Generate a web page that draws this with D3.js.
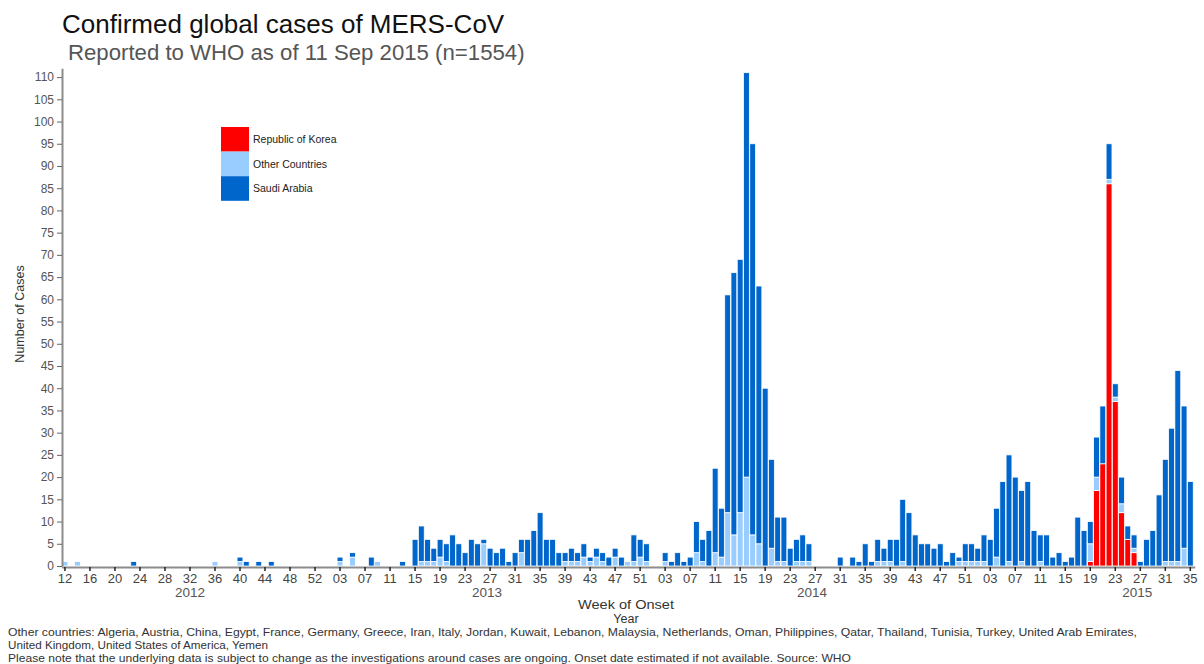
<!DOCTYPE html>
<html><head><meta charset="utf-8">
<script src="https://cdn.jsdelivr.net/npm/d3@7"></script>
<style>
body{margin:0;background:#fff;}
text{font-family:"Liberation Sans",Arial,Helvetica,sans-serif;}
</style>
</head><body>
<svg id="chart" width="1204" height="664"></svg>
<script>
// ---------------- DATA ----------------
const years = [2012, 2013, 2014, 2015];
const firstWeek = [12, 1, 1, 1];
const lastWeek = [53, 52, 52, 35];

const seriesKeys = ["korea", "other", "saudi"];
const seriesNames = ["Republic of Korea", "Other Countries", "Saudi Arabia"];
const seriesColors = ["#FF0000", "#99CCFF", "#0066CC"];

const yTickValues = [0,5,10,15,20,25,30,35,40,45,50,55,60,65,70,75,80,85,90,95,100,105,110];

// 2012, weeks 12..53
const korea2012 = [0,0,0,0,0,0,0,0,0,0, 0,0,0,0,0,0,0,0,0,0, 0,0,0,0,0,0,0,0,0,0, 0,0,0,0,0,0,0,0,0,0, 0,0];
const other2012 = [1,0,1,0,0,0,0,0,0,0, 0,0,0,0,0,0,0,0,0,0, 0,0,0,0,1,0,0,0,1,0, 0,0,0,0,0,0,0,0,0,0, 0,0];
const saudi2012 = [0,0,0,0,0,0,0,0,0,0, 0,1,0,0,0,0,0,0,0,0, 0,0,0,0,0,0,0,0,1,1, 0,1,0,1,0,0,0,0,0,0, 0,0];

// 2013, weeks 1..52
const korea2013 = [0,0,0,0,0,0,0,0,0,0, 0,0,0,0,0,0,0,0,0,0, 0,0,0,0,0,0,0,0,0,0, 0,0,0,0,0,0,0,0,0,0, 0,0,0,0,0,0,0,0,0,0, 0,0];
const other2013 = [0,0,1,0,2,0,0,0,1,0, 0,0,0,0,0,1,1,1,2,1, 0,0,0,0,0,5,0,0,0,0, 0,3,0,0,0,0,0,0,1,1, 1,2,1,2,1,0,2,0,1,1, 2,1];
const saudi2013 = [0,0,1,0,1,0,0,2,0,0, 0,0,1,0,6,8,5,3,4,4, 7,5,3,6,5,1,4,3,4,1, 3,3,6,8,12,6,6,3,2,3, 2,3,1,2,2,2,2,2,0,6, 4,4];

// 2014, weeks 1..52
const korea2014 = [0,0,0,0,0,0,0,0,0,0, 0,0,0,0,0,0,0,0,0,0, 0,0,0,0,0,0,0,0,0,0, 0,0,0,0,0,0,0,0,0,0, 0,0,0,0,0,0,0,0,0,0, 0,0];
const other2014 = [0,0,1,0,0,0,0,3,1,0, 3,2,12,7,12,20,7,5,0,4, 1,1,0,1,1,1,0,0,0,0, 0,0,0,0,0,0,1,1,1,0, 1,0,0,0,0,0,0,0,0,1, 1,1];
const saudi2014 = [0,0,2,1,3,1,2,7,5,8, 19,11,49,59,57,91,88,58,40,20, 10,10,4,5,6,4,0,0,0,0, 2,0,2,1,5,1,5,3,5,6, 14,12,7,5,5,4,5,1,3,1, 4,4];

// 2015, weeks 1..35
const korea2015 = [0,0,0,0,0,0,0,0,0,0, 0,0,0,0,0,0,0,0,1,17, 23,86,37,12,6,3,0,0,0,0, 0,0,0,0,0];
const other2015 = [1,1,0,2,0,1,0,1,0,0, 1,0,0,0,0,0,0,0,4,3, 0,1,1,2,0,1,0,0,0,0, 1,1,1,4,0];
const saudi2015 = [3,6,6,11,19,24,20,16,19,8, 6,7,2,3,1,2,11,8,5,9, 13,8,3,6,3,3,1,6,8,16, 23,30,43,32,19];

const titleText = "Confirmed global cases of MERS-CoV";
const subtitleText = "Reported to WHO as of 11 Sep 2015 (n=1554)";
const yAxisTitle = "Number of Cases";
const xAxisTitle1 = "Week of Onset";
const xAxisTitle2 = "Year";
const footnotes = [
  "Other countries: Algeria, Austria, China, Egypt, France, Germany, Greece, Iran, Italy, Jordan, Kuwait, Lebanon, Malaysia, Netherlands, Oman, Philippines, Qatar, Thailand, Tunisia, Turkey, United Arab Emirates,",
  "United Kingdom, United States of America, Yemen",
  "Please note that the underlying data is subject to change as the investigations around cases are ongoing. Onset date estimated if not available. Source: WHO"
];

// ---------------- BUILD TABLE ----------------
const koreaByYear = [korea2012, korea2013, korea2014, korea2015];
const otherByYear = [other2012, other2013, other2014, other2015];
const saudiByYear = [saudi2012, saudi2013, saudi2014, saudi2015];

const rows = [];
const yearStartIdx = [];
years.forEach((yr, i) => {
  yearStartIdx.push(rows.length);
  for (let w = firstWeek[i]; w <= lastWeek[i]; w++) {
    const j = w - firstWeek[i];
    rows.push({key: yr + "-" + w, year: yr, week: w,
      korea: koreaByYear[i][j], other: otherByYear[i][j], saudi: saudiByYear[i][j]});
  }
});

// ---------------- DRAW ----------------
const svg = d3.select("#chart");
const x0 = 62, x1 = 1193.25, yBase = 566, yTop = 68.2;

const x = d3.scaleBand().domain(rows.map(d => d.key)).range([x0, x1]).paddingInner(0.06).paddingOuter(0);
const y = d3.scaleLinear().domain([0, 112]).range([yBase, yTop]);
const color = d3.scaleOrdinal().domain(seriesKeys).range(seriesColors);

const stacked = d3.stack().keys(seriesKeys)(rows);

svg.append("g").selectAll("g").data(stacked).join("g")
  .attr("fill", s => color(s.key))
  .selectAll("rect").data(s => s.filter(d => d[1] - d[0] > 0)).join("rect")
  .attr("x", d => x(d.data.key))
  .attr("width", x.bandwidth())
  .attr("y", d => y(d[1]))
  .attr("height", d => y(d[0]) - y(d[1]))
  .attr("stroke", "#ffffff")
  .attr("stroke-width", 0.8);

// Y axis
const yAxis = svg.append("g").attr("transform", `translate(${x0},0)`)
  .call(d3.axisLeft(y).tickValues(yTickValues).tickSize(5).tickSizeOuter(0).tickPadding(3));
yAxis.select(".domain").attr("stroke", "#8c8c8c").attr("stroke-width", 2);
yAxis.selectAll(".tick line").attr("stroke", "#666");
yAxis.selectAll(".tick text").attr("font-size", 12).attr("fill", "#555")
  .style("font-family", "'Liberation Sans', Arial, sans-serif");

// X axis
const tickKeys = rows.filter((d, i) => i % 4 === 0).map(d => d.key);
const weekOf = new Map(rows.map(d => [d.key, d.week]));
const xAxis = svg.append("g").attr("transform", `translate(0,${yBase + 1})`)
  .call(d3.axisBottom(x).tickValues(tickKeys)
    .tickFormat(k => String(weekOf.get(k)).padStart(2, "0"))
    .tickSize(4).tickSizeOuter(0).tickPadding(3));
xAxis.select(".domain").attr("stroke", "#8c8c8c").attr("stroke-width", 2)
  .attr("d", `M${x0},0.5H${x1 + 2}`);
xAxis.selectAll(".tick line").attr("stroke", "#222").attr("stroke-width", 1.5);
xAxis.selectAll(".tick text").attr("font-size", 13).attr("fill", "#444")
  .style("font-family", "'Liberation Sans', Arial, sans-serif");

// Year labels
const step = x.step();
years.forEach((yr, i) => {
  const startKey = rows[yearStartIdx[i]].key;
  const cx = x(startKey) + x.bandwidth() / 2 + step * (52 - firstWeek[i]) / 2;
  svg.append("text").attr("x", cx).attr("y", 597).attr("text-anchor", "middle")
    .attr("font-size", 13.5).attr("fill", "#555").text(yr);
});

// Axis titles
svg.append("text").attr("x", 626).attr("y", 609).attr("text-anchor", "middle")
  .attr("font-size", 12.5).attr("fill", "#333").attr("textLength", 96).attr("lengthAdjust", "spacingAndGlyphs")
  .text(xAxisTitle1);
svg.append("text").attr("x", 626).attr("y", 623.3).attr("text-anchor", "middle")
  .attr("font-size", 12.5).attr("fill", "#333").text(xAxisTitle2);
svg.append("text").attr("transform", "translate(24,314) rotate(-90)").attr("text-anchor", "middle")
  .attr("font-size", 12.5).attr("fill", "#333").text(yAxisTitle);

// Title / subtitle
svg.append("text").attr("x", 62).attr("y", 33).attr("font-size", 26).attr("fill", "#111").text(titleText);
svg.append("text").attr("x", 68).attr("y", 60).attr("font-size", 22.2).attr("fill", "#555").text(subtitleText);

// Legend (top to bottom: Korea, Other, Saudi)
const legend = svg.append("g").attr("transform", "translate(221,127)");
seriesKeys.forEach((k, i) => {
  legend.append("rect").attr("x", 0).attr("y", i * 24.6).attr("width", 28).attr("height", 24.6)
    .attr("fill", color(k));
  legend.append("text").attr("x", 32).attr("y", i * 24.6 + 16).attr("font-size", 10.5)
    .attr("fill", "#222").text(seriesNames[i]);
});

// Footnotes
const footY = [636, 649, 662];
const footW = [1129, 260, 843];
footnotes.forEach((t, i) => {
  svg.append("text").attr("x", 8).attr("y", footY[i]).attr("font-size", 11)
    .attr("fill", "#333").attr("textLength", footW[i]).attr("lengthAdjust", "spacingAndGlyphs").text(t);
});
</script>
</body></html>
